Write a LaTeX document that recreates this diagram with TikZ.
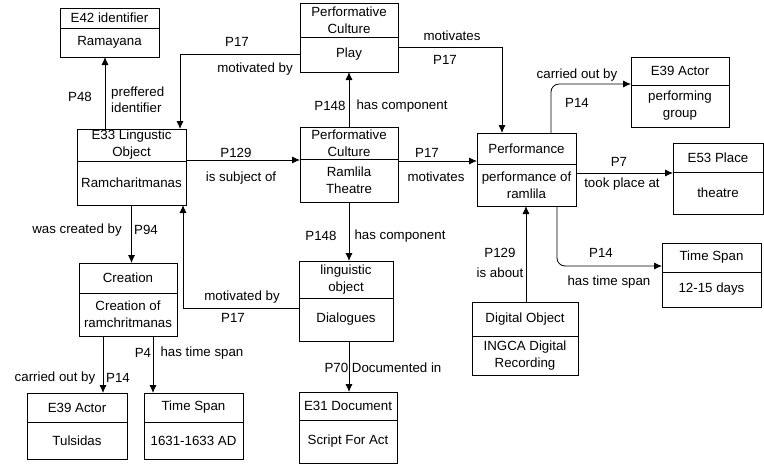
\documentclass[tikz,border=0pt]{standalone}
\usepackage{fontspec}
\setmainfont{Liberation Sans}
\usetikzlibrary{arrows.meta,fit}
\tikzset{
  boxnode/.style={draw, line width=0.8pt, inner sep=0pt, outer sep=0pt},
  txt/.style={align=center, inner sep=1pt, font=\fontsize{13.3}{17}\selectfont},
  lbl/.style={inner sep=1pt, align=left, font=\fontsize{13.3}{16}\selectfont},
  arr/.style={line width=0.8pt, -{Latex[length=8pt,width=7pt]}},
}
% name, x1, y1, x2, y2, ydiv, top text, bottom text
\newcommand\cbox[8]{%
  \node[boxnode, fit={(#2,#3) (#4,#5)}] (#1) {};
  \draw[line width=0.8pt] (#2,#6) -- (#4,#6);
  \node[txt] (#1-h) at ({(#2+#4)/2},{(#3+#6)/2}) {#7};
  \node[txt] (#1-b) at ({(#2+#4)/2},{(#6+#5)/2}) {#8};
}
\begin{document}
\begin{tikzpicture}[x=1pt,y=-1pt]
\useasboundingbox (0,0) rectangle (764,464);
\cbox{E42}{60}{8}{159}{57}{28}{E42 identifier}{Ramayana}
\cbox{Play}{300}{3}{398}{72}{37}{Performative\\Culture}{Play}
\cbox{E33}{77}{129}{186}{205}{161}{E33 Lingustic\\Object}{Ramcharitmanas}
\cbox{Ramlila}{300}{127}{398}{202}{159}{Performative\\Culture}{Ramlila\\Theatre}
\cbox{Perf}{477}{133}{576}{206}{164}{Performance}{performance of\\ramlila}
\cbox{E39a}{631}{57}{729}{127}{85}{E39 Actor}{performing\\group}
\cbox{E53}{673}{143}{763}{214}{172}{E53 Place}{theatre}
\cbox{TSb}{662}{243}{761}{307}{272}{Time Span}{12-15 days}
\cbox{Creation}{79}{263}{177}{336}{293}{Creation}{Creation of\\ramchritmanas}
\cbox{Ling}{299}{261}{393}{341}{298}{linguistic\\object}{Dialogues}
\cbox{Digital}{472}{302}{578}{375}{336}{Digital Object}{INGCA Digital\\Recording}
\cbox{E39b}{27}{393}{127}{459}{422}{E39 Actor}{Tulsidas}
\cbox{TSa}{144}{393}{243}{459}{422}{Time Span}{1631-1633 AD}
\cbox{E31}{299}{392}{397}{463}{420}{E31 Document}{Script For Act}

% connectors
\coordinate (c1) at (105,0);
\draw[arr] (c1 |- E33.north) -- (c1 |- E42.south);
\coordinate (c2) at (180,54);
\draw[arr] (Play.west |- c2) -- (c2) -- (c2 |- E33.north);
\coordinate (c3) at (0,160);
\draw[arr] (E33.east |- c3) -- (Ramlila.west |- c3);
\draw[arr] (Ramlila.north) -- (Play.south);
\coordinate (c5) at (502,47);
\draw[arr] (Play.east |- c5) -- (c5) -- (c5 |- Perf.north);
\coordinate (c6) at (0,161);
\draw[arr] (Ramlila.east |- c6) -- (Perf.west |- c6);
\coordinate (c7) at (551,84);
\draw[arr, rounded corners=8pt] (c7 |- Perf.north) -- (c7) -- (E39a.west |- c7);
\coordinate (c8) at (0,173);
\draw[arr] (Perf.east |- c8) -- (E53.west |- c8);
\coordinate (c9) at (557,266);
\draw[arr, rounded corners=8pt] (c9 |- Perf.south) -- (c9) -- (TSb.west |- c9);
\coordinate (c10) at (526,0);
\draw[arr] (c10 |- Digital.north) -- (c10 |- Perf.south);
\draw[arr] (Ramlila.south) -- (Ramlila.south |- Ling.north);
\coordinate (c12) at (183,308);
\draw[arr] (Ling.west |- c12) -- (c12) -- (c12 |- E33.south);
\draw[arr] (E33.south) -- (E33.south |- Creation.north);
\coordinate (c14) at (103,0);
\draw[arr] (c14 |- Creation.south) -- (c14 |- E39b.north);
\coordinate (c15) at (153,0);
\draw[arr] (c15 |- Creation.south) -- (c15 |- TSa.north);
\coordinate (c16) at (349,0);
\draw[arr] (c16 |- Ling.south) -- (c16 |- E31.north);

% labels
\node[lbl] (l1) at (80,97) {P48};
\node[lbl, anchor=west] (l2) at (110,100) {preffered\\identifier};
\node[lbl] (l3) at (237,42) {P17};
\node[lbl] (l4) at (255,69) {motivated by};
\node[lbl] (l5) at (236,153) {P129};
\node[lbl] (l6) at (241,178) {is subject of};
\node[lbl] (l7) at (330,106) {P148};
\node[lbl] (l8) at (402,106) {has component};
\node[lbl] (l9) at (452,36) {motivates};
\node[lbl] (l10) at (445,60) {P17};
\node[lbl] (l11) at (427,153) {P17};
\node[lbl] (l12) at (436,177) {motivates};
\node[lbl] (l13) at (321,236) {P148};
\node[lbl] (l14) at (400,236) {has component};
\node[lbl] (l15) at (577,75) {carried out by};
\node[lbl] (l16) at (577,103) {P14};
\node[lbl] (l17) at (619,162) {P7};
\node[lbl] (l18) at (622,184) {took place at};
\node[lbl] (l19) at (601,253) {P14};
\node[lbl] (l20) at (609,282) {has time span};
\node[lbl] (l21) at (500,253) {P129};
\node[lbl] (l22) at (500,273) {is about};
\node[lbl] (l23) at (77,230) {was created by};
\node[lbl] (l24) at (146,230) {P94};
\node[lbl] (l25) at (55,378) {carried out by};
\node[lbl] (l26) at (118,378) {P14};
\node[lbl] (l27) at (143,353) {P4};
\node[lbl] (l28) at (202,353) {has time span};
\node[lbl] (l29) at (383,368) {P70 Documented in};
\node[lbl] (l30) at (242,297) {motivated by};
\node[lbl] (l31) at (233,318) {P17};
\end{tikzpicture}
\end{document}
